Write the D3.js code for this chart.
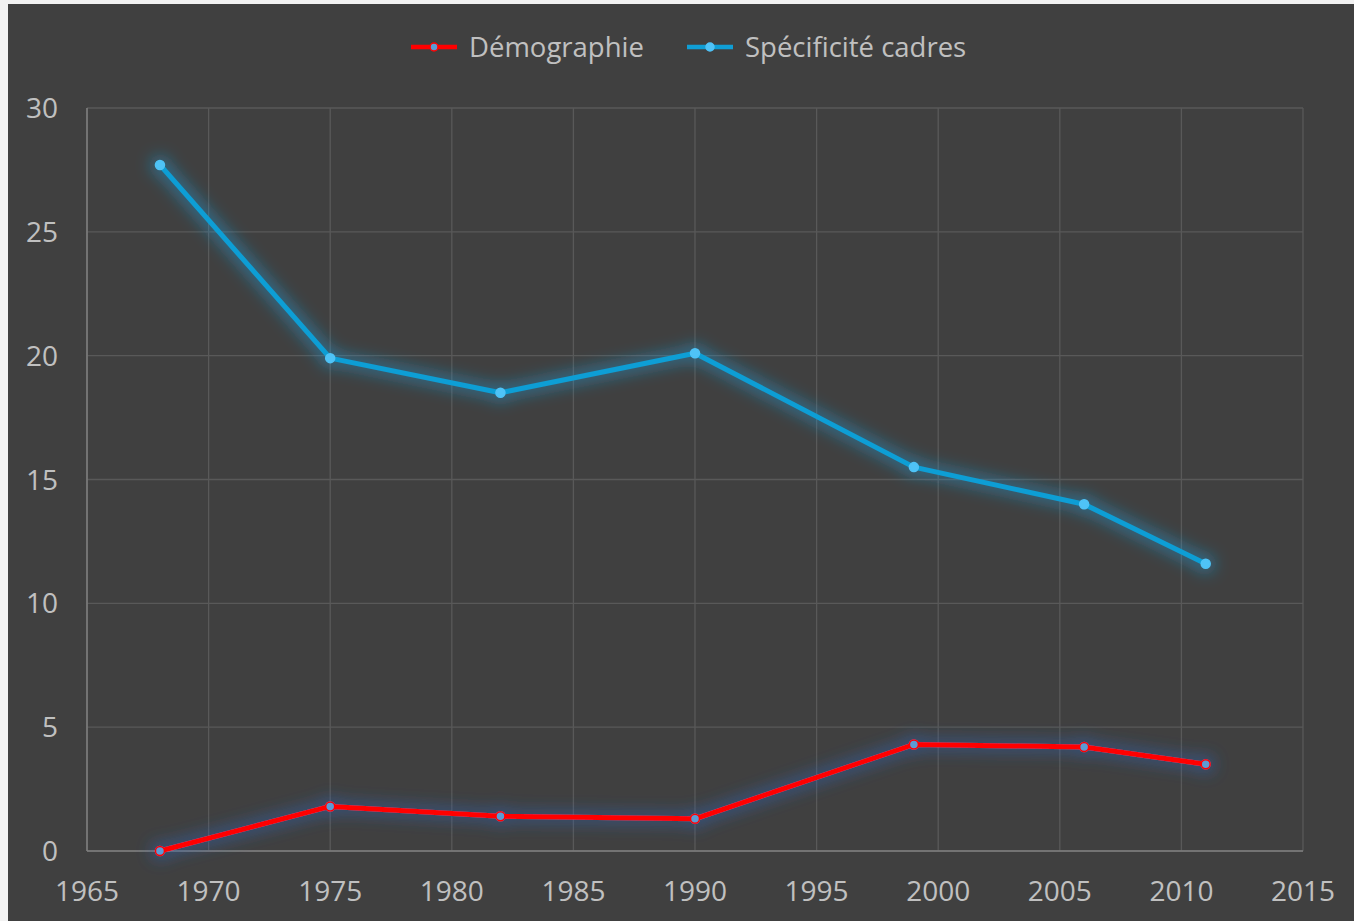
<!DOCTYPE html>
<html>
<head>
<meta charset="utf-8">
<script src="https://cdn.jsdelivr.net/npm/d3@7"></script>
<style>
  body { margin: 0; background: #f2f2f2; }
  svg { display: block; }
  text { font-family: "Open Sans", "Noto Sans", sans-serif; fill: #c0c0c0; }
</style>
</head>
<body>
<div id="container"></div>
<script>
const years = [1968, 1975, 1982, 1990, 1999, 2006, 2011];
const demographie = [0, 1.8, 1.4, 1.3, 4.3, 4.2, 3.5];
const specificite = [27.7, 19.9, 18.5, 20.1, 15.5, 14.0, 11.6];
const xTicks = [1965, 1970, 1975, 1980, 1985, 1990, 1995, 2000, 2005, 2010, 2015];
const yTicks = [0, 5, 10, 15, 20, 25, 30];
const seriesNames = ["Démographie", "Spécificité cadres"];

const W = 1354, H = 921;
const margin = { top: 108, right: 51, bottom: 70, left: 87 };

const svg = d3.select("#container").append("svg")
  .attr("width", W).attr("height", H);

// glow filters
const defs = svg.append("defs");
const addGlow = (id, color, dev, op) => {
  const f = defs.append("filter").attr("id", id)
    .attr("x", "-20%").attr("y", "-20%").attr("width", "140%").attr("height", "140%");
  f.append("feMorphology").attr("in", "SourceAlpha").attr("operator", "dilate").attr("radius", 3).attr("result", "d");
  f.append("feGaussianBlur").attr("in", "d").attr("stdDeviation", dev).attr("result", "b");
  f.append("feFlood").attr("flood-color", color).attr("flood-opacity", op);
  f.append("feComposite").attr("in2", "b").attr("operator", "in").attr("result", "g");
  const m = f.append("feMerge");
  m.append("feMergeNode").attr("in", "g");
  m.append("feMergeNode").attr("in", "SourceGraphic");
};
addGlow("glowBlue", "#1e9bd7", 8, 0.55);
addGlow("glowRed", "#2f62b0", 8, 0.6);

svg.append("rect").attr("x", 8).attr("y", 4).attr("width", W - 8).attr("height", H - 4)
  .attr("fill", "#404040");

const x = d3.scaleLinear().domain([1965, 2015]).range([margin.left, W - margin.right]);
const y = d3.scaleLinear().domain([0, 30]).range([H - margin.bottom, margin.top]);

// grid
const grid = svg.append("g");
grid.selectAll(".vg").data(xTicks).enter().append("line")
  .attr("x1", d => x(d)).attr("x2", d => x(d))
  .attr("y1", y(30)).attr("y2", y(0))
  .attr("stroke", "#595959").attr("stroke-width", 1.3);
grid.selectAll(".hg").data(yTicks).enter().append("line")
  .attr("x1", x(1965)).attr("x2", x(2015))
  .attr("y1", d => y(d)).attr("y2", d => y(d))
  .attr("stroke", "#595959").attr("stroke-width", 1.3);
// axis lines
grid.append("line").attr("x1", x(1965)).attr("x2", x(1965)).attr("y1", y(30)).attr("y2", y(0))
  .attr("stroke", "#7f7f7f").attr("stroke-width", 1.5);
grid.append("line").attr("x1", x(1965)).attr("x2", x(2015)).attr("y1", y(0)).attr("y2", y(0))
  .attr("stroke", "#7f7f7f").attr("stroke-width", 1.5);

// tick labels
svg.append("g").selectAll("text").data(xTicks).enter().append("text")
  .attr("x", d => x(d)).attr("y", H - margin.bottom + 50)
  .attr("text-anchor", "middle").attr("font-size", 28).text(d => d);
svg.append("g").selectAll("text").data(yTicks).enter().append("text")
  .attr("x", 58).attr("y", d => y(d) + 10)
  .attr("text-anchor", "end").attr("font-size", 28).text(d => d);

const line = d3.line().x(d => x(d[0])).y(d => y(d[1]));

const series = [
  { name: seriesNames[1], values: specificite, stroke: "#0f9ed5", fill: "#4fc3f7", mstroke: "#4fc3f7", glow: "glowBlue" },
  { name: seriesNames[0], values: demographie, stroke: "#ff0000", fill: "#5b9bd5", mstroke: "#ff0000", glow: "glowRed" }
];

series.forEach(s => {
  const pts = years.map((yr, i) => [yr, s.values[i]]);
  const g = svg.append("g").attr("filter", `url(#${s.glow})`);
  g.append("path").datum(pts).attr("d", line)
    .attr("fill", "none").attr("stroke", s.stroke).attr("stroke-width", 5)
    .attr("stroke-linejoin", "round");
  g.selectAll("circle").data(pts).enter().append("circle")
    .attr("cx", d => x(d[0])).attr("cy", d => y(d[1])).attr("r", 4.5)
    .attr("fill", s.fill).attr("stroke", s.mstroke).attr("stroke-width", 1.5);
});

// legend
const legendItems = [
  { name: seriesNames[0], stroke: "#ff0000", fill: "#5b9bd5", mstroke: "#ff0000", x: 411 },
  { name: seriesNames[1], stroke: "#0f9ed5", fill: "#4fc3f7", mstroke: "#4fc3f7", x: 687 }
];
const legend = svg.append("g").selectAll("g").data(legendItems).enter().append("g")
  .attr("transform", d => `translate(${d.x}, 47)`);
legend.append("line").attr("x1", 0).attr("x2", 46).attr("y1", 0).attr("y2", 0)
  .attr("stroke", d => d.stroke).attr("stroke-width", 4.5);
legend.append("circle").attr("cx", 23).attr("cy", 0).attr("r", 4)
  .attr("fill", d => d.fill).attr("stroke", d => d.mstroke).attr("stroke-width", 1.5);
legend.append("text").attr("x", 58).attr("y", 10).attr("font-size", 27.5).text(d => d.name);
</script>
</body>
</html>
